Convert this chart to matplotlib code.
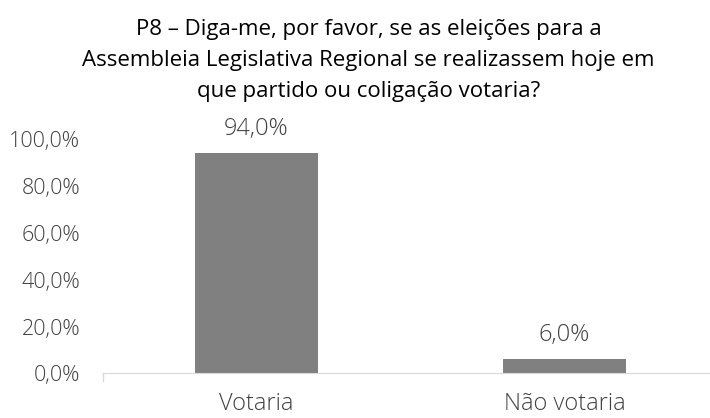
import matplotlib.pyplot as plt

# dados
categorias = ["Votaria", "Não votaria"]
valores = [94.0, 6.0]
ticks_y = [0, 20, 40, 60, 80, 100]
rotulos_y = ["0,0%", "20,0%", "40,0%", "60,0%", "80,0%", "100,0%"]
rotulos_barras = ["94,0%", "6,0%"]
linhas_titulo = ["P8 – Diga-me, por favor, se as eleições para a",
                 "Assembleia Legislativa Regional se realizassem hoje em",
                 "que partido ou coligação votaria?"]

plt.rcParams["font.family"] = ["Open Sans", "DejaVu Sans"]
cor_texto = "#404040"

fig = plt.figure(figsize=(7.1, 4.18), dpi=100)
ax = fig.add_axes([0.1444, 0.1065, 0.8676, 0.561])

x = range(len(categorias))
ax.bar(x, valores, width=0.4, color="#808080")

ax.set_xlim(-0.5, 1.5)
ax.set_ylim(0, 100)
ax.set_yticks(ticks_y)
ax.set_yticklabels(rotulos_y, fontsize=15.5, color=cor_texto, fontweight="light")
ax.tick_params(axis="y", length=0, pad=16)
ax.set_xticks(list(x))
ax.set_xticklabels(categorias, fontsize=17, color=cor_texto, fontweight="light")
ax.tick_params(axis="x", length=0, pad=13)

# pequeno traço no início do eixo
ax.plot([-0.5, -0.5], [0, -3], color="#d9d9d9", lw=1, clip_on=False)

for s in ["top", "right", "left"]:
    ax.spines[s].set_visible(False)
ax.spines["bottom"].set_color("#d9d9d9")

for i, v in enumerate(valores):
    ax.text(i, v + 7.7, rotulos_barras[i], ha="center", va="baseline",
            fontsize=17, color=cor_texto, fontweight="light")

# título em três linhas (linhas de base em ~35, 66, 97 px)
for k, linha in enumerate(linhas_titulo):
    fig.text(0.519, 1 - (35 + 31 * k) / 418, linha, ha="center",
             va="baseline", fontsize=16, color="#000000")

fig.savefig("out.png", dpi=100)
